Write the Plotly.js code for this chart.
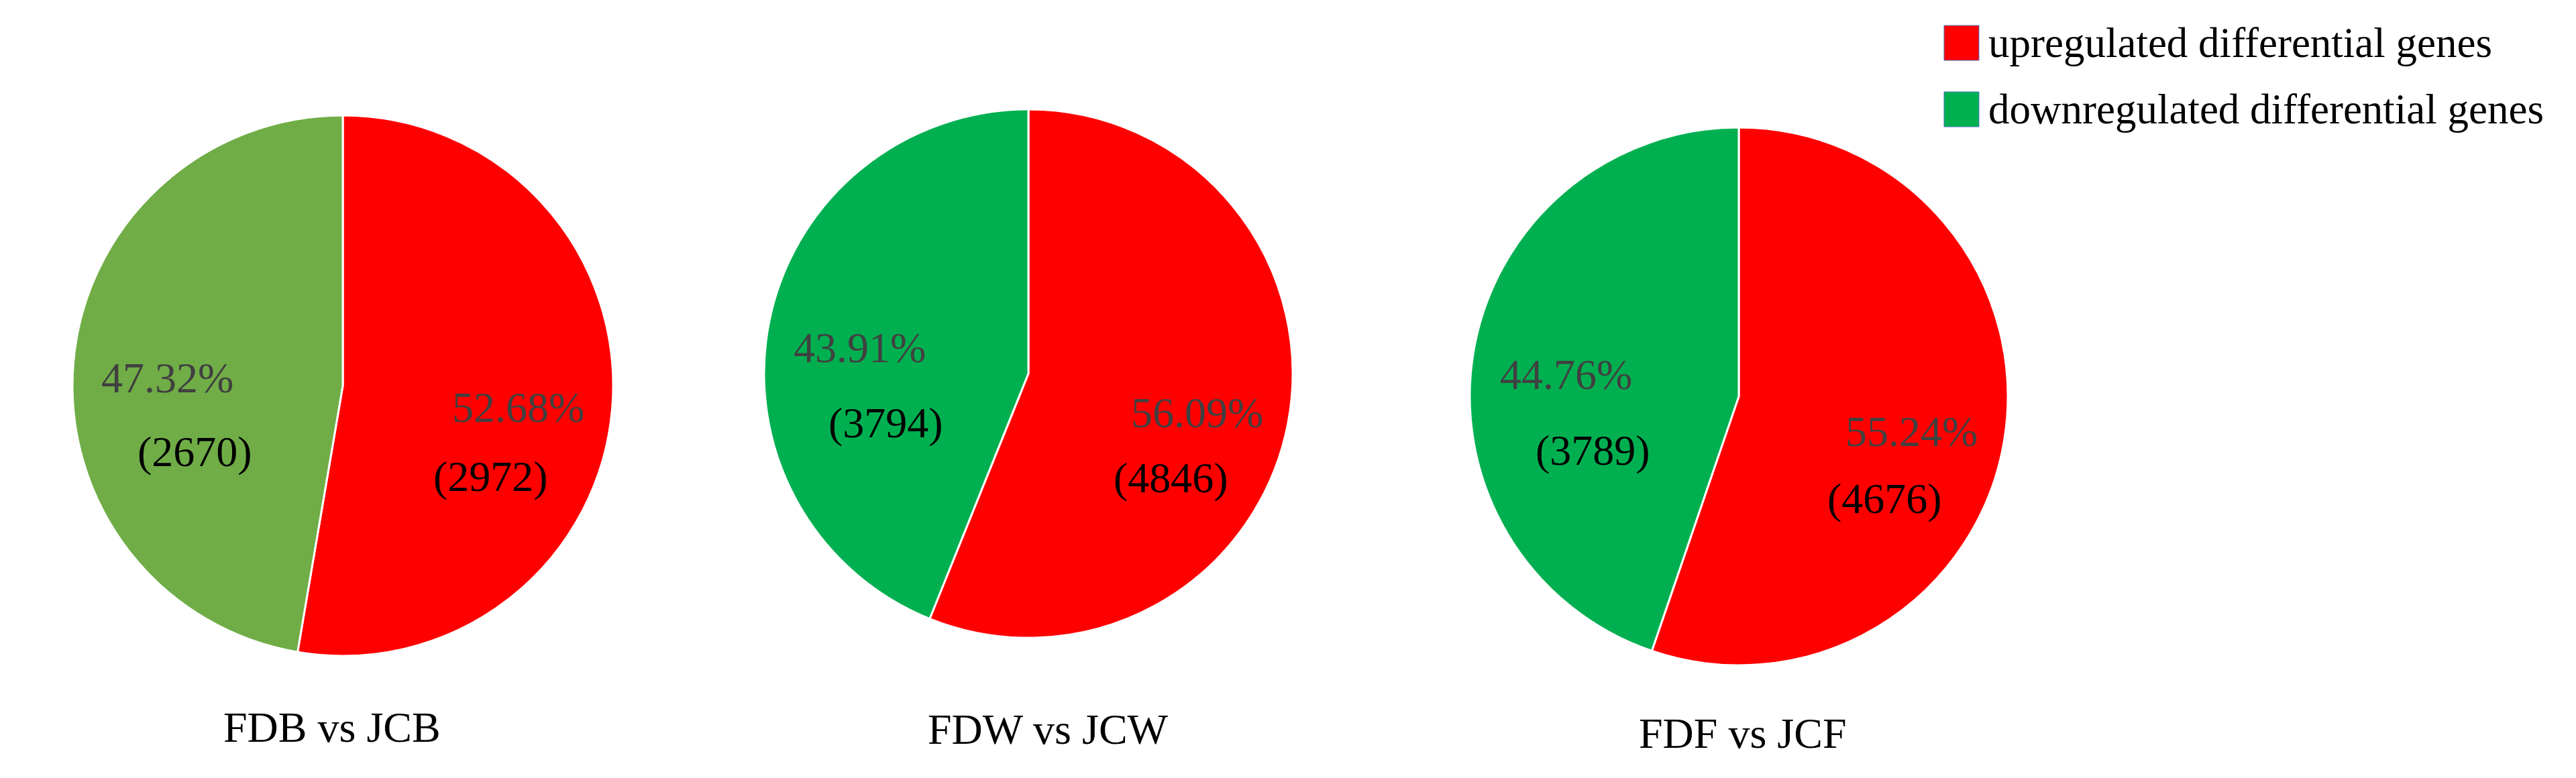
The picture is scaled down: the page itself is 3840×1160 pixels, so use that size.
<!DOCTYPE html>
<html>
<head>
<meta charset="utf-8">
<script src="https://cdn.plot.ly/plotly-3.0.1.min.js"></script>
<style>
  html, body { margin: 0; padding: 0; background: #fff; }
</style>
</head>
<body>
<div id="chart" style="width:3840px;height:1160px;"></div>
<script>
const comparisons = ['FDB vs JCB', 'FDW vs JCW', 'FDF vs JCF'];
const seriesLabels = ['upregulated differential genes', 'downregulated differential genes'];
const upCounts = [2972, 4846, 4676];
const downCounts = [2670, 3794, 3789];
const upColors = ['#FF0000', '#FF0000', '#FF0000'];
const downColors = ['#70AD47', '#00B050', '#00B050'];
const legendColors = ['#FF0000', '#00B050'];

const W = 3840, H = 1160;

// pie placement (paper coords)
const domains = [
  { x: [0.02813, 0.23802], y: [0.15690, 0.85172] },
  { x: [0.29661, 0.50182], y: [0.18017, 0.85948] },
  { x: [0.57057, 0.77943], y: [0.14483, 0.83621] }
];
const titleX = [495, 1562, 2598];
const titleY = [1084, 1087, 1093];

const serif = '"Liberation Serif", "Times New Roman", serif';

const data = [];
const annotations = [];
const shapes = [];

function label(text, px, py, color) {
  return {
    text: text,
    xref: 'paper', yref: 'paper',
    x: px / W, y: 1 - py / H,
    xanchor: 'center', yanchor: 'middle',
    showarrow: false,
    font: { family: serif, size: 64, color: color }
  };
}

for (let i = 0; i < comparisons.length; i++) {
  const vals = [upCounts[i], downCounts[i]];
  data.push({
    type: 'pie',
    name: comparisons[i],
    labels: seriesLabels,
    values: vals,
    sort: false,
    direction: 'clockwise',
    rotation: 0,
    domain: domains[i],
    marker: { colors: [upColors[i], downColors[i]], line: { color: '#ffffff', width: 3 } },
    textinfo: 'none',
    hoverinfo: 'skip',
    showlegend: false
  });

  // slice labels along each slice's bisector: percent further out, count below it
  const d = domains[i];
  const cx = (d.x[0] + d.x[1]) / 2 * W;
  const cy = (1 - (d.y[0] + d.y[1]) / 2) * H;
  const r = (d.x[1] - d.x[0]) * W / 2;
  const total = vals[0] + vals[1];
  let start = 0;
  for (let j = 0; j < vals.length; j++) {
    const frac = vals[j] / total;
    const ang = 2 * Math.PI * (start + frac / 2);
    start += frac;
    const sx = Math.sin(ang), sy = -Math.cos(ang);
    annotations.push(label((frac * 100).toFixed(2) + '%',
      cx + 0.65 * r * sx, cy + 0.65 * r * sy + 0.025 * r, '#404040'));
    annotations.push(label('(' + vals[j] + ')',
      cx + 0.55 * r * sx, cy + 0.55 * r * sy + 0.29 * r, '#000000'));
  }

  annotations.push({
    text: comparisons[i],
    xref: 'paper', yref: 'paper',
    x: titleX[i] / W, y: 1 - titleY[i] / H,
    xanchor: 'center', yanchor: 'middle',
    showarrow: false,
    font: { family: serif, size: 64, color: '#000000' }
  });
}

// legend, top right
const legendRows = [64, 163];
for (let k = 0; k < seriesLabels.length; k++) {
  shapes.push({
    type: 'rect', xref: 'paper', yref: 'paper',
    x0: 2898 / W, x1: 2950 / W,
    y0: 1 - (legendRows[k] - 26) / H, y1: 1 - (legendRows[k] + 26) / H,
    fillcolor: legendColors[k],
    line: { color: '#4472C4', width: 1 }
  });
  annotations.push({
    text: seriesLabels[k],
    xref: 'paper', yref: 'paper',
    x: 2962 / W, y: 1 - legendRows[k] / H,
    xanchor: 'left', yanchor: 'middle',
    showarrow: false,
    font: { family: serif, size: 63, color: '#000000' }
  });
}

const layout = {
  width: W,
  height: H,
  margin: { l: 0, r: 0, t: 0, b: 0 },
  paper_bgcolor: '#ffffff',
  showlegend: false,
  font: { family: serif },
  annotations: annotations,
  shapes: shapes
};

Plotly.newPlot('chart', data, layout, { staticPlot: true });
</script>
</body>
</html>
